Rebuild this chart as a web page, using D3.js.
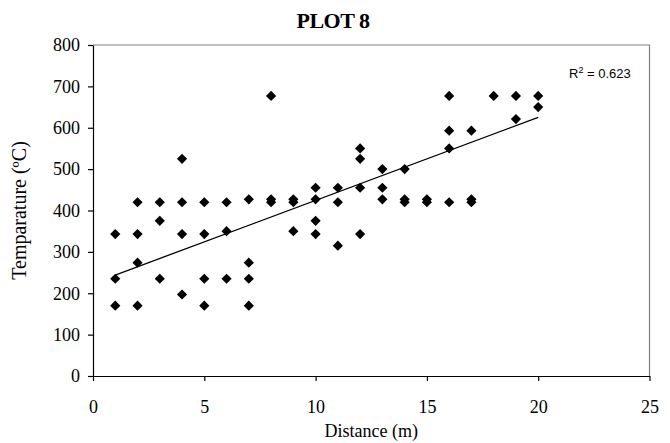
<!DOCTYPE html>
<html>
<head>
<meta charset="utf-8">
<script src="https://cdn.jsdelivr.net/npm/d3@7"></script>
<style>
    html, body { margin: 0; padding: 0; background: #fff; }
    svg { display: block; }
</style>
</head>
<body>
<div id="chart"></div>
<script>
    // values
    const distance = [
        1, 1, 1,
        2, 2, 2, 2,
        3, 3, 3,
        4, 4, 4, 4,
        5, 5, 5, 5,
        6, 6, 6,
        7, 7, 7, 7,
        8, 8, 8,
        9, 9, 9,
        10, 10, 10, 10,
        11, 11, 11,
        12, 12, 12, 12,
        13, 13, 13,
        14, 14, 14,
        15, 15,
        16, 16, 16, 16,
        17, 17, 17,
        18,
        19, 19,
        20, 20
    ];
    const temperature = [
        343, 235, 170,
        420, 343, 274, 170,
        420, 375, 235,
        525, 420, 343, 197,
        420, 343, 235, 170,
        420, 350, 235,
        427, 274, 235, 170,
        677, 427, 420,
        427, 420, 350,
        455, 427, 375, 343,
        455, 420, 315,
        550, 525, 455, 343,
        500, 455, 427,
        500, 427, 420,
        427, 420,
        677, 593, 550, 420,
        593, 427, 420,
        677,
        677, 621,
        677, 650
    ];
    // linear trend line as drawn in the reference (ends at x = 1 and x = 20)
    const trendX = [1, 20];
    const trendY = [244, 625];
    const rSquared = '0.623';

    const xTicks = [0, 5, 10, 15, 20, 25];
    const yTicks = [0, 100, 200, 300, 400, 500, 600, 700, 800];

    const W = 670, H = 443;
    const margin = { top: 45, left: 93 };
    const width = 649.5 - margin.left;
    const height = 376 - margin.top;

    const svg = d3.select('#chart').append('svg')
        .attr('width', W)
        .attr('height', H);

    const g = svg.append('g')
        .attr('transform', `translate(${margin.left},${margin.top})`);

    const x = d3.scaleLinear().domain([0, 25]).range([0, width]);
    const y = d3.scaleLinear().domain([0, 800]).range([height, 0]);

    // plot area border (top/right)
    g.append('path')
        .attr('d', `M0,0H${width}V${height}`)
        .attr('fill', 'none')
        .attr('stroke', '#808080')
        .attr('stroke-width', 1.2);

    const serif = '"Liberation Serif", "Times New Roman", serif';

    const xAxis = g.append('g')
        .attr('transform', `translate(0,${height})`)
        .call(d3.axisBottom(x).tickValues(xTicks).tickSize(5).tickPadding(19).tickSizeOuter(0));
    const yAxis = g.append('g')
        .call(d3.axisLeft(y).tickValues(yTicks).tickSize(5).tickPadding(8).tickSizeOuter(0));

    [xAxis, yAxis].forEach(ax => {
        ax.selectAll('text')
            .attr('font-family', serif)
            .attr('font-size', 18)
            .attr('fill', '#000');
        ax.selectAll('line, path').attr('stroke', '#000').attr('stroke-width', 1.2);
    });

    const line = d3.line().x(d => x(d[0])).y(d => y(d[1]));
    g.append('path')
        .datum(trendX.map((d, i) => [d, trendY[i]]))
        .attr('d', line)
        .attr('fill', 'none')
        .attr('stroke', '#000')
        .attr('stroke-width', 1.3);

    g.selectAll('.pt')
        .data(distance.map((d, i) => [d, temperature[i]]))
        .enter()
        .append('path')
        .attr('class', 'pt')
        .attr('d', d3.symbol().type(d3.symbolSquare).size(52))
        .attr('transform', d => `translate(${x(d[0])},${y(d[1])}) rotate(45)`)
        .attr('fill', '#000');

    // R² label
    const r2 = svg.append('text')
        .attr('x', 569)
        .attr('y', 78)
        .attr('font-family', '"Liberation Sans", Arial, sans-serif')
        .attr('font-size', 13)
        .attr('fill', '#000');
    r2.append('tspan').text('R');
    r2.append('tspan').attr('dy', -5).attr('font-size', 9).text('2');
    r2.append('tspan').attr('dy', 5).text(' = ' + rSquared);

    svg.append('text')
        .attr('x', 333)
        .attr('y', 28)
        .attr('text-anchor', 'middle')
        .attr('font-family', serif)
        .attr('font-weight', 'bold')
        .attr('font-size', 22)
        .attr('letter-spacing', -0.5)
        .text('PLOT 8');

    svg.append('text')
        .attr('x', margin.left + width / 2)
        .attr('y', 437)
        .attr('text-anchor', 'middle')
        .attr('font-family', serif)
        .attr('font-size', 18)
        .text('Distance (m)');

    svg.append('text')
        .attr('transform', `translate(26,${margin.top + height / 2}) rotate(-90)`)
        .attr('text-anchor', 'middle')
        .attr('font-family', serif)
        .attr('font-size', 20)
        .text('Temparature (ºC)');
</script>
</body>
</html>
